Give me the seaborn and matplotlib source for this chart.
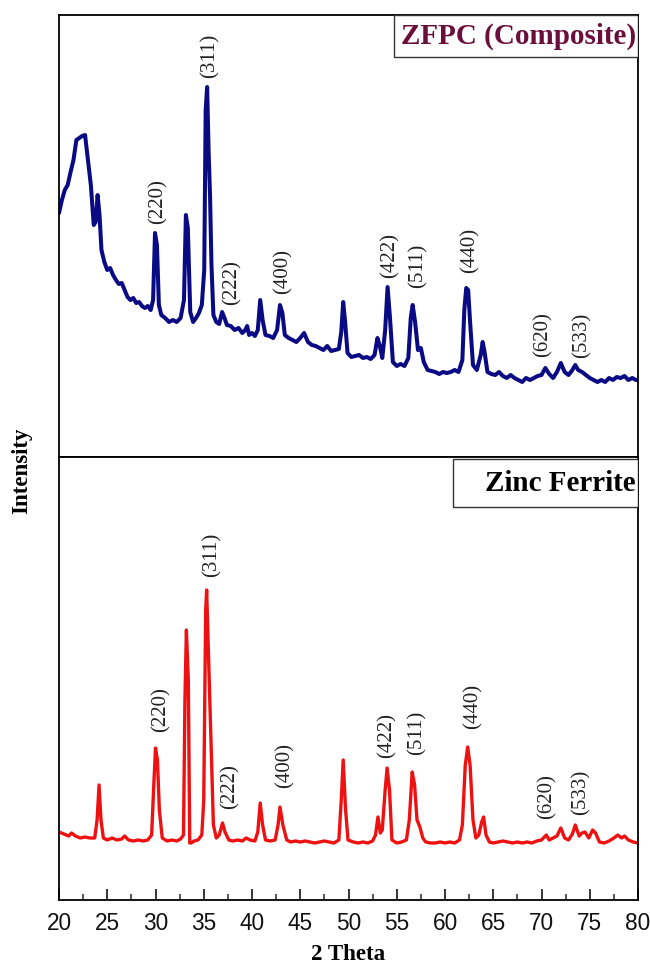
import matplotlib
matplotlib.use("Agg")
import matplotlib.pyplot as plt
import numpy as np
import pandas as pd
import seaborn as sns
from matplotlib.patches import Rectangle
from matplotlib.ticker import MultipleLocator

# ---------------- data (arbitrary intensity units) ----------------
top_two_theta = [20.0, 20.3, 20.6, 20.9, 21.2, 21.5, 21.8, 22.1, 22.4, 22.7, 23.0, 23.3, 23.6, 23.8,
                 24.0, 24.2, 24.4, 24.7, 25.0, 25.3, 25.6, 25.9, 26.2, 26.5, 26.8, 27.1, 27.4, 27.7,
                 28.0, 28.3, 28.6, 28.9, 29.2, 29.5, 29.75, 29.95, 30.15, 30.35, 30.6, 31.0, 31.4,
                 31.8, 32.2, 32.6, 32.95, 33.15, 33.35, 33.6, 33.9, 34.2, 34.5, 34.8, 35.05, 35.2,
                 35.35, 35.5, 35.65, 35.8, 36.0, 36.3, 36.6, 36.9, 37.15, 37.4, 37.8, 38.2, 38.6,
                 39.0, 39.3, 39.5, 39.7, 40.0, 40.3, 40.6, 40.85, 41.1, 41.4, 41.8, 42.2, 42.6, 42.9,
                 43.15, 43.4, 43.8, 44.2, 44.6, 45.0, 45.4, 45.8, 46.2, 46.6, 47.0, 47.4, 47.8, 48.2,
                 48.6, 49.0, 49.25, 49.45, 49.65, 49.9, 50.3, 50.7, 51.1, 51.5, 51.9, 52.3, 52.7,
                 53.0, 53.25, 53.5, 53.8, 54.05, 54.3, 54.6, 55.0, 55.4, 55.8, 56.2, 56.45, 56.65,
                 56.9, 57.2, 57.5, 57.8, 58.2, 58.6, 59.0, 59.4, 59.8, 60.2, 60.6, 61.0, 61.4, 61.8,
                 62.0, 62.2, 62.4, 62.6, 62.9, 63.3, 63.7, 63.9, 64.1, 64.4, 64.8, 65.2, 65.6, 66.0,
                 66.4, 66.8, 67.2, 67.6, 68.0, 68.4, 68.8, 69.2, 69.6, 70.0, 70.4, 70.8, 71.2, 71.6,
                 72.0, 72.4, 72.8, 73.2, 73.5, 73.8, 74.2, 74.6, 75.0, 75.4, 75.8, 76.2, 76.6, 77.0,
                 77.4, 77.8, 78.2, 78.6, 79.0, 79.4, 79.8, 80.0]
top_intensity = [244, 257, 267, 272, 285, 297, 317, 319, 321, 322, 297, 272, 232, 235,
                 262, 242, 207, 195, 187, 189, 182, 177, 173, 174, 167, 160, 157, 159,
                 154, 155, 151, 149, 151, 147, 157, 224, 212, 152, 142, 139, 135,
                 137, 135, 139, 157, 242, 229, 145, 135, 139, 144, 152, 187, 347,
                 370, 307, 262, 192, 142, 135, 133, 145, 139, 132, 131, 127, 129,
                 124, 127, 131, 122, 124, 121, 127, 157, 137, 122, 121, 119, 127, 152,
                 144, 122, 119, 117, 115, 119, 124, 115, 112, 111, 109, 107, 111, 106,
                 107, 108, 125, 155, 135, 104, 100, 101, 102, 99, 100, 98, 102,
                 119, 111, 99, 127, 170, 139, 95, 91, 93, 91, 99, 139, 152,
                 135, 107, 109, 95, 87, 86, 85, 83, 85, 84, 85, 87, 85, 97,
                 147, 169, 167, 135, 92, 87, 102, 115, 105, 85, 83, 82, 85, 81,
                 79, 82, 79, 77, 75, 79, 77, 79, 81, 82, 89, 83, 79, 85,
                 94, 85, 82, 87, 92, 87, 85, 82, 79, 77, 75, 77, 75, 79,
                 77, 80, 79, 81, 77, 79, 77, 77]

bot_two_theta = [20.0, 20.5, 21.0, 21.3, 21.7, 22.2, 22.7, 23.2, 23.7, 23.95, 24.15, 24.35, 24.6,
                 25.0, 25.5, 26.0, 26.5, 26.8, 27.2, 27.7, 28.2, 28.7, 29.2, 29.6, 29.8, 30.0,
                 30.2, 30.4, 30.7, 31.2, 31.7, 32.2, 32.6, 32.9, 33.05, 33.2, 33.4, 33.55, 33.7,
                 34.0, 34.4, 34.8, 35.0, 35.2, 35.3, 35.45, 35.6, 35.8, 36.0, 36.3, 36.6, 36.95,
                 37.2, 37.6, 38.0, 38.5, 39.0, 39.4, 39.8, 40.3, 40.6, 40.85, 41.1, 41.4, 41.9,
                 42.4, 42.7, 42.9, 43.2, 43.6, 44.0, 44.5, 45.0, 45.5, 46.0, 46.5, 47.0, 47.5,
                 48.0, 48.5, 49.0, 49.25, 49.45, 49.7, 49.95, 50.5, 51.0, 51.5, 52.0, 52.5, 52.8,
                 53.05, 53.3, 53.5, 53.8, 54.0, 54.25, 54.5, 55.0, 55.5, 56.0, 56.3, 56.6, 56.85,
                 57.1, 57.4, 57.7, 58.0, 58.5, 59.0, 59.5, 60.0, 60.5, 61.0, 61.5, 61.8, 62.1,
                 62.35, 62.6, 62.9, 63.2, 63.5, 63.8, 64.0, 64.25, 64.6, 65.0, 65.5, 66.0, 66.5,
                 67.0, 67.5, 68.0, 68.5, 69.0, 69.5, 70.0, 70.5, 70.8, 71.2, 71.6, 72.0, 72.4,
                 72.8, 73.2, 73.5, 73.9, 74.2, 74.5, 74.9, 75.3, 75.6, 76.0, 76.5, 77.0, 77.5,
                 77.9, 78.3, 78.6, 79.0, 79.5, 80.0]
bot_intensity = [68, 66, 64, 67, 64, 62, 63, 62, 62, 80, 115, 80, 62,
                 60, 62, 60, 61, 64, 60, 59, 60, 59, 60, 65, 110, 152,
                 140, 90, 62, 59, 60, 59, 61, 65, 200, 270, 220, 57, 57,
                 59, 60, 65, 100, 290, 310, 260, 207, 140, 75, 62, 65, 77,
                 68, 60, 59, 60, 59, 62, 60, 59, 68, 97, 75, 60, 59,
                 60, 75, 93, 75, 60, 58, 59, 58, 59, 58, 57, 58, 59,
                 58, 57, 60, 100, 140, 90, 60, 58, 57, 58, 57, 59, 65,
                 83, 67, 70, 110, 132, 110, 60, 57, 58, 60, 80, 128, 115,
                 80, 73, 62, 58, 57, 57, 58, 57, 58, 57, 60, 75, 135,
                 153, 135, 80, 62, 65, 78, 83, 65, 58, 57, 58, 59, 58,
                 57, 58, 57, 58, 57, 59, 60, 65, 60, 62, 64, 72, 62,
                 60, 66, 75, 64, 67, 68, 62, 70, 67, 58, 57, 59, 62,
                 65, 62, 64, 60, 58, 57]

hkl_labels = ["(220)", "(311)", "(222)", "(400)", "(422)", "(511)", "(440)", "(620)", "(533)"]

# label anchor positions (layout)
top_label_x = [30.26, 35.65, 37.93, 43.2, 54.3, 57.2, 62.6, 70.15, 74.2]
top_label_y = [255, 401, 174, 186, 202, 191, 207, 122, 122]
bot_label_x = [30.57, 35.85, 37.7, 43.4, 54.0, 57.1, 62.9, 70.57, 74.1]
bot_label_y = [190, 345, 113, 134, 165, 167, 194, 103, 108]

top_name = "ZFPC (Composite)"
bot_name = "Zinc Ferrite"
x_label = "2 Theta"
y_label = "Intensity"

# ---------------- style ----------------
sns.set_theme(style="white")
plt.rcParams['font.family'] = ['Liberation Serif', 'DejaVu Serif']

W, H = 650, 965
fig = plt.figure(figsize=(W / 100, H / 100), dpi=100)
L, R = 59, 638
ax_top = fig.add_axes([L / W, 1 - 457 / H, (R - L) / W, 442 / H])
ax_bot = fig.add_axes([L / W, 1 - 900 / H, (R - L) / W, 443 / H])

df_top = pd.DataFrame({"two_theta": top_two_theta, "intensity": top_intensity})
df_bot = pd.DataFrame({"two_theta": bot_two_theta, "intensity": bot_intensity})

sns.lineplot(data=df_top, x="two_theta", y="intensity", ax=ax_top, color="#0a0a85",
             linewidth=2.9, estimator=None, sort=False)
sns.lineplot(data=df_bot, x="two_theta", y="intensity", ax=ax_bot, color="#ee1111",
             linewidth=2.4, estimator=None, sort=False)

for ax, ymax in ((ax_top, 442), (ax_bot, 443)):
    ax.set_xlim(20, 80)
    ax.set_ylim(0, ymax)
    ax.set_yticks([])
    ax.set_xlabel("")
    ax.set_ylabel("")
    for sp in ax.spines.values():
        sp.set_color("black")
        sp.set_linewidth(1.3)

ax_top.set_xticks([])
ax_top.tick_params(axis="x", which="both", bottom=False, labelbottom=False)

ax_bot.xaxis.set_major_locator(MultipleLocator(5))
ax_bot.xaxis.set_minor_locator(MultipleLocator(2.5))
ax_bot.tick_params(axis="x", which="major", direction="in", length=8, width=1.1,
                   bottom=True, pad=8.5, colors="black")
ax_bot.tick_params(axis="x", which="minor", direction="in", length=4.5, width=1.1, bottom=True)
for lab in ax_bot.get_xticklabels():
    lab.set_fontfamily(["Liberation Sans", "DejaVu Sans"])
    lab.set_fontsize(16.3)
    lab.set_color("#111111")

# peak labels
for ax, xs, ys in ((ax_top, top_label_x, top_label_y), (ax_bot, bot_label_x, bot_label_y)):
    for lab, x, y in zip(hkl_labels, xs, ys):
        ax.text(x, y, lab, rotation=90, ha="center", va="center", fontsize=15,
                color="#222222")

# name boxes
ax_top.add_patch(Rectangle((0.5786, 0.905), 1 - 0.5786, 0.095, transform=ax_top.transAxes,
                           facecolor="white", edgecolor="#333333", linewidth=1.0, zorder=4))
ax_top.text(0.997, 0.9525, top_name, transform=ax_top.transAxes, ha="right", va="center",
            fontsize=21, fontweight="bold", color="#6a0f3c", zorder=5)
ax_bot.add_patch(Rectangle((0.6805, 0.887), 1 - 0.6805, 0.9955 - 0.887, transform=ax_bot.transAxes,
                           facecolor="white", edgecolor="#333333", linewidth=1.0, zorder=4))
ax_bot.text(0.996, 0.941, bot_name, transform=ax_bot.transAxes, ha="right", va="center",
            fontsize=21, fontweight="bold", color="black", zorder=5)

fig.text(22 / W, 1 - 471 / H, y_label, rotation=90, ha="center", va="center",
         fontsize=16.5, fontweight="bold", color="black")
fig.text((L + R) / 2 / W, 1 - 954 / H, x_label, ha="center", va="center",
         fontsize=16.5, fontweight="bold", color="black")

fig.savefig("out.png", dpi=100, facecolor="white")
